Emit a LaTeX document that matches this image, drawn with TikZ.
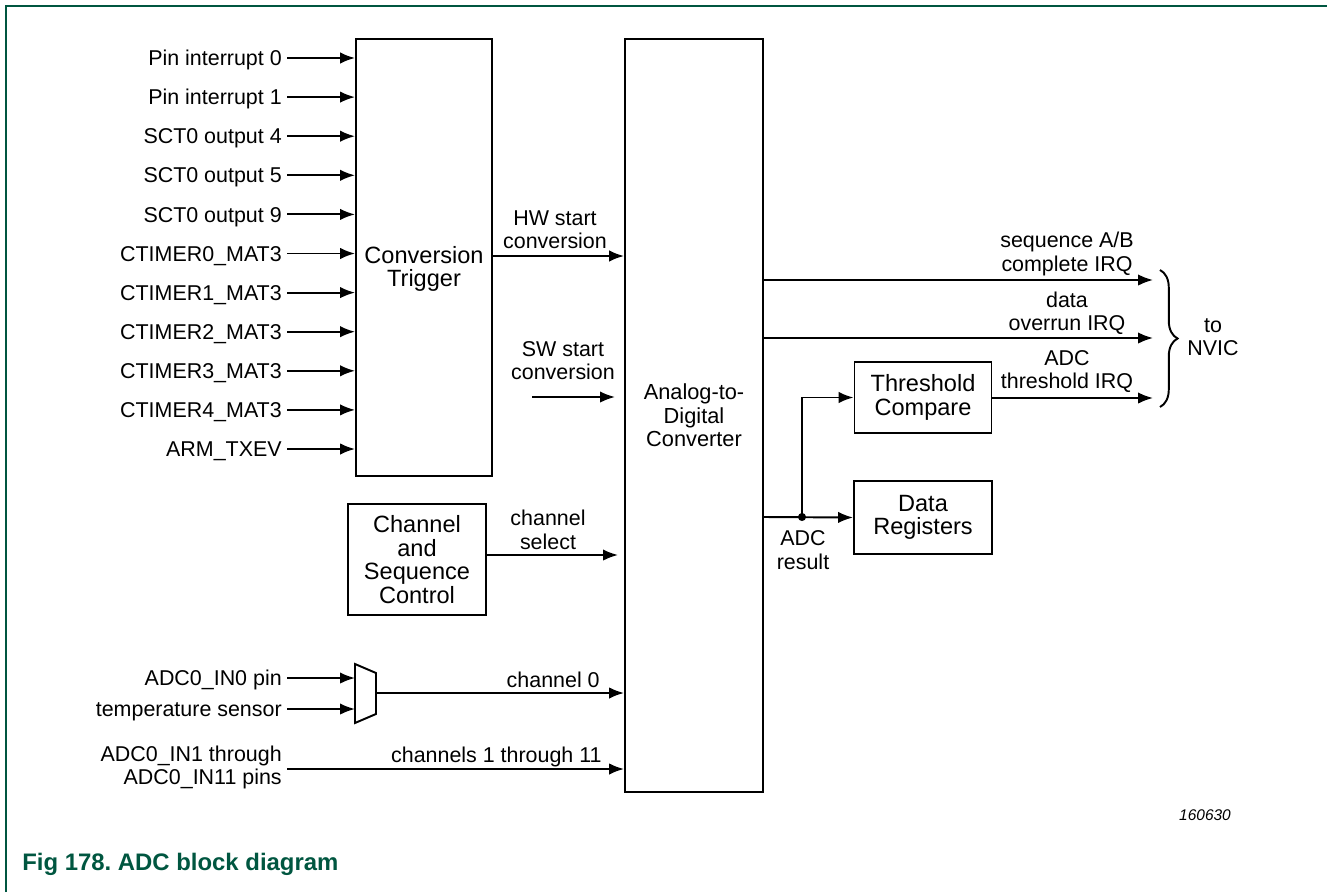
\documentclass[tikz,border=0pt]{standalone}
\usepackage{fontspec}
\setmainfont{Liberation Sans}
\usetikzlibrary{arrows.meta, positioning, decorations.pathreplacing}
\definecolor{FigGreen}{RGB}{0,86,64}
\tikzset{
  sig/.style={-{Latex[length=8.5pt,width=6.5pt]}, line width=1.1pt},
  blockbox/.style={draw, line width=1.1pt, align=center, inner sep=0pt, font=\fontsize{13.4}{13.4}\selectfont},
  inlbl/.style={anchor=east, inner xsep=2.8pt, inner ysep=0pt, text height=8.7pt, text depth=0pt},
  sigtext/.style={align=center, inner sep=0pt}
}

\begin{document}
\begin{tikzpicture}[x=0.02cm, y=-0.02cm, font=\fontsize{12.2}{13.3}\selectfont]
  \useasboundingbox (0,0) rectangle (1327,892);
  % frame
  \draw[FigGreen, line width=1.1pt] (6,892) -- (6,6) -- (1327,6);

  % trigger block and its inputs
  \node[blockbox, minimum width=2.72cm, minimum height=8.74cm] (trig) at (424,257.5) {};
  \node[sigtext, font=\fontsize{13.4}{13.4}\selectfont] (triglbl) at (424,269) {Conversion\\Trigger};
  \foreach \txt [count=\i from 0] in {Pin interrupt 0, Pin interrupt 1, SCT0 output 4, SCT0 output 5, SCT0 output 9, CTIMER0\_MAT3, CTIMER1\_MAT3, CTIMER2\_MAT3, CTIMER3\_MAT3, CTIMER4\_MAT3, ARM\_TXEV}
  {
    \node[inlbl] (in\i) at (287,{58+39.1*\i}) {\txt};
    \draw[sig] (in\i.east) -- (in\i.east -| trig.west);
  }

  % converter
  \node[blockbox, minimum width=2.76cm, minimum height=15.06cm, font=\fontsize{12.4}{13.4}\selectfont] (adc) at (694,415.5) {Analog-to-\\Digital\\Converter};

  \coordinate (hw) at (492,256);
  \draw[sig] (hw) -- (hw -| adc.west);
  \node[sigtext] (hwlbl) at (555,230) {HW start\\conversion};

  \coordinate (sw) at (532,397);
  \coordinate (swend) at (615,397);
  \draw[sig] (sw) -- (swend);
  \node[sigtext] (swlbl) at (563,360.5) {SW start\\conversion};

  % channel control
  \node[blockbox, minimum width=2.76cm, minimum height=2.22cm] (chan) at (417,559.5) {Channel\\and\\Sequence\\Control};
  \coordinate (selend) at (618,555);
  \draw[sig] (chan.east |- selend) -- (selend);
  \node[sigtext] (sellbl) at (548,530) {channel\\select};

  % mux
  \draw[line width=1.1pt] (355,664) -- (376,673) -- (376,714) -- (355,723) -- cycle;
  \coordinate (muxin) at (355,693);
  \coordinate (muxout) at (376,693);
  \node[inlbl] (ain0) at (287,678) {ADC0\_IN0 pin};
  \node[inlbl] (tsen) at (287,709) {temperature sensor};
  \draw[sig] (ain0.east) -- (ain0.east -| muxin);
  \draw[sig] (tsen.east) -- (tsen.east -| muxin);
  \draw[sig] (muxout) -- (muxout -| adc.west);
  \node[anchor=east, inner sep=0pt] (ch0lbl) at (600,680) {channel 0};

  \node[align=right, anchor=east, inner xsep=2.8pt, inner ysep=0pt] (ainx) at (287,767.5) {ADC0\_IN1 through\\ADC0\_IN11 pins};
  \coordinate (ainxy) at (287,769);
  \draw[sig] (ainxy) -- (ainxy -| adc.west);
  \node[anchor=east, inner sep=0pt] (chxlbl) at (602,757) {channels 1 through 11};

  % outputs
  \node[blockbox, minimum width=2.74cm, minimum height=1.42cm] (thr) at (923,397.5) {Threshold\\Compare};
  \node[blockbox, minimum width=2.76cm, minimum height=1.46cm] (dreg) at (923,517.5) {Data\\Registers};
  \coordinate (irq1) at (1153,280);
  \coordinate (irq2) at (1153,338);
  \coordinate (irq3) at (1153,398);
  \draw[sig] (adc.east |- irq1) -- (irq1);
  \draw[sig] (adc.east |- irq2) -- (irq2);
  \draw[sig] (thr.east |- irq3) -- (irq3);
  \node[sigtext] (irq1lbl) at (1067,254) {sequence A/B\\complete IRQ};
  \node[sigtext] (irq2lbl) at (1067,313.5) {data\\overrun IRQ};
  \node[sigtext] (irq3lbl) at (1067,371.5) {ADC\\threshold IRQ};

  \coordinate (res) at (802,517);
  \draw[sig] (adc.east |- res) -- (dreg.west);
  \draw[sig] (res) |- (thr.west);
  \fill (res) circle (2.3pt);
  \node[sigtext] (reslbl) at (803,550) {ADC\\result};

  \draw[line width=1.1pt, decorate, decoration={brace, amplitude=10pt}] (1160,270) -- (1160,407);
  \node[sigtext] (nvic) at (1213,337) {to\\NVIC};

  \node[font=\itshape\fontsize{8.8}{10}\selectfont] (fignum) at (1205,815) {160630};
  \node[anchor=west, inner sep=0pt, text=FigGreen, font=\bfseries\fontsize{13.6}{16}\selectfont] (cap) at (22,864) {Fig 178.\ ADC block diagram};
\end{tikzpicture}
\end{document}
